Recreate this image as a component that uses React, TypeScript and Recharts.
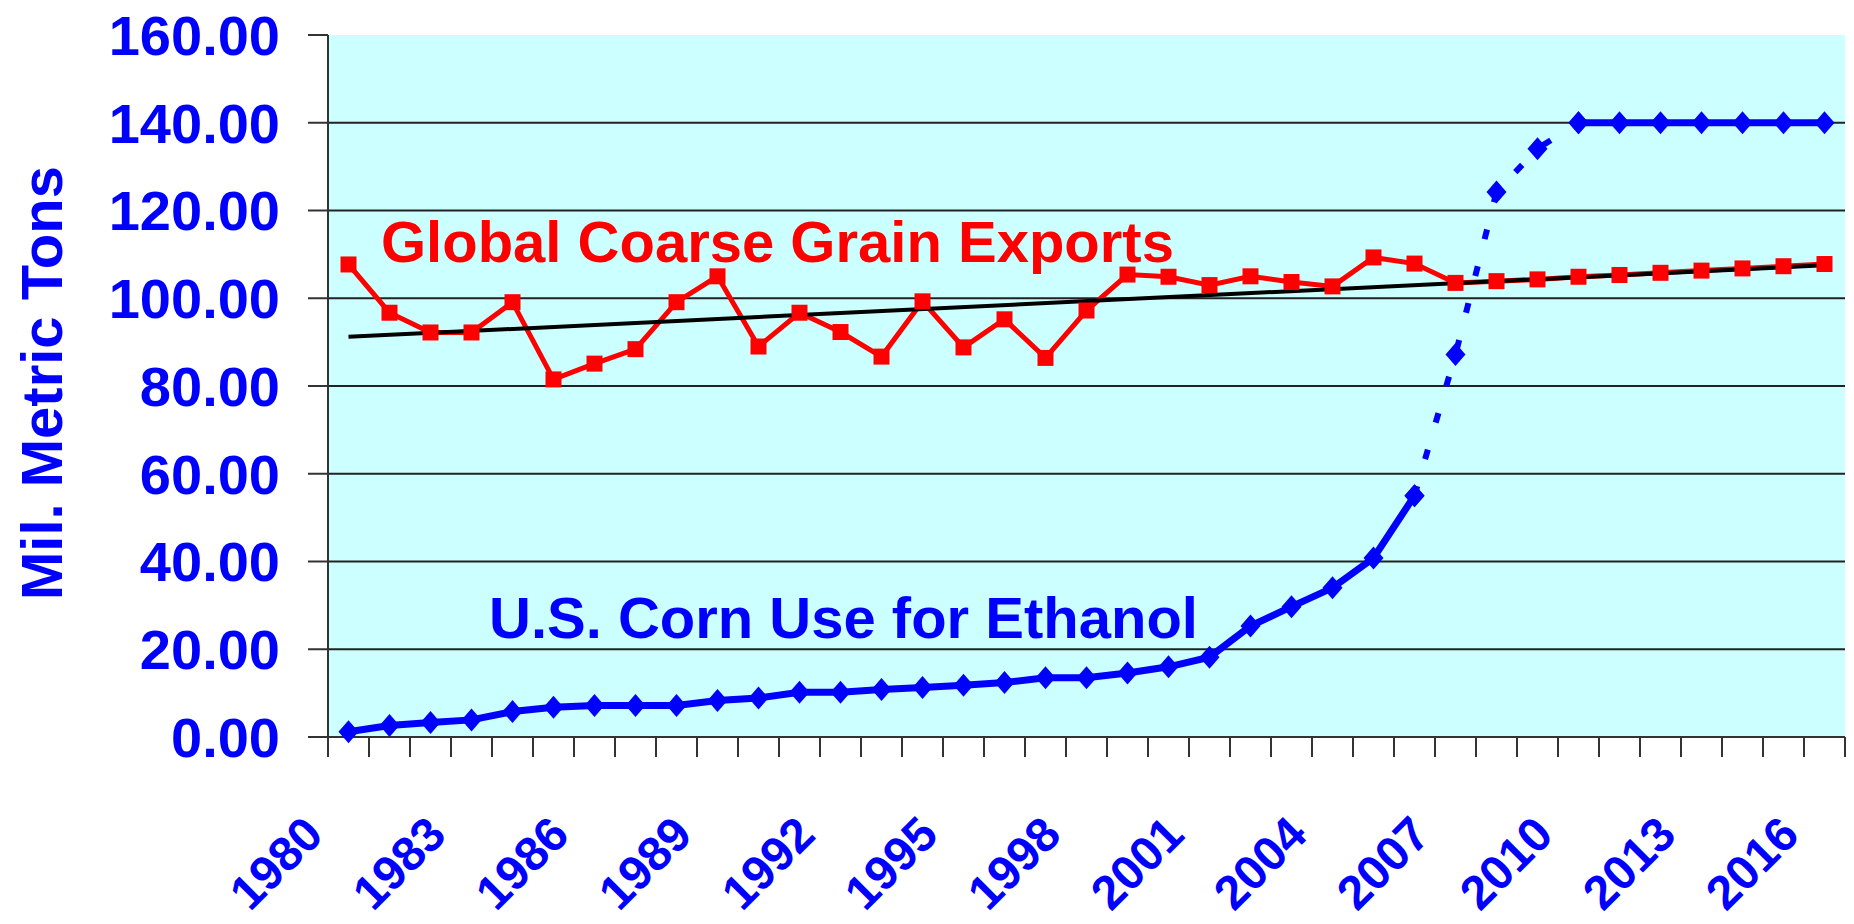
import { CartesianGrid, Line, LineChart, XAxis, YAxis } from "recharts";

const years = [
  1980, 1981, 1982, 1983, 1984, 1985, 1986, 1987, 1988, 1989, 1990, 1991, 1992,
  1993, 1994, 1995, 1996, 1997, 1998, 1999, 2000, 2001, 2002, 2003, 2004, 2005,
  2006, 2007, 2008, 2009, 2010, 2011, 2012, 2013, 2014, 2015, 2016
];

// Global coarse grain exports (red squares)
const grainExports = [
  107.7, 96.7, 92.2, 92.2, 99.1, 81.5, 85.1, 88.4, 99.1, 105.0, 89.0, 96.7, 92.3,
  86.7, 99.3, 88.8, 95.2, 86.4, 97.2, 105.4, 104.9, 103.0, 105.0, 103.7, 102.7,
  109.3, 107.9, 103.5, 103.9, 104.3, 104.9, 105.3, 105.8, 106.3, 106.8, 107.3, 107.8
];

// U.S. corn use for ethanol (blue diamonds)
const ethanolUse = [
  1.2, 2.6, 3.3, 3.9, 5.8, 6.8, 7.2, 7.2, 7.2, 8.3, 8.9, 10.2, 10.2, 10.8, 11.3,
  11.8, 12.4, 13.5, 13.5, 14.6, 16.0, 18.2, 25.3, 29.7, 34.0, 40.8, 55.0, 87.2,
  124.2, 134.1, 140, 140, 140, 140, 140, 140, 140
];

// linear trend of the exports, read at both ends
const trendEnds = [
  { year: 1980, value: 91.2 },
  { year: 2016, value: 107.5 }
];

const lastActualYear = 2006;
const plateauYear = 2010;

const yTicks = [0, 20, 40, 60, 80, 100, 120, 140, 160];
const gridValues = [20, 40, 60, 80, 100, 120, 140];
const labelYears = [1980, 1983, 1986, 1989, 1992, 1995, 1998, 2001, 2004, 2007, 2010, 2013, 2016];

// tick marks sit between the years
const tickBounds = [...years.map((y) => y - 0.5), years[years.length - 1] + 0.5];

const data = years.map((year, i) => {
  const trend = trendEnds.find((t) => t.year === year);
  return {
    year,
    grain: grainExports[i],
    trend: trend ? trend.value : null,
    ethActual: year <= lastActualYear ? ethanolUse[i] : null,
    ethProj: year >= lastActualYear && year <= plateauYear ? ethanolUse[i] : null,
    ethPlateau: year >= plateauYear ? ethanolUse[i] : null
  };
});

const FONT = '"Liberation Sans", Arial, sans-serif';
const BLUE = "#0000FF";
const RED = "#FF0000";
const AXIS = "#333333";

function SquareDot(props: any) {
  const { cx, cy, index } = props;
  if (cx == null || cy == null || props.value == null) return <g key={index} />;
  return <rect key={index} x={cx - 8} y={cy - 8} width={16} height={16} fill={RED} />;
}

function DiamondDot(props: any) {
  const { cx, cy, index } = props;
  if (cx == null || cy == null || props.value == null) return <g key={index} />;
  const pts = `${cx},${cy - 11.5} ${cx + 10},${cy} ${cx},${cy + 11.5} ${cx - 10},${cy}`;
  return <polygon key={index} points={pts} fill={BLUE} />;
}

function EmptyTick() {
  return <g />;
}

function YearTick(props: any) {
  const { x, y, payload } = props;
  return (
    <text
      x={0}
      y={0}
      transform={`translate(${x - 23},${y + 99}) rotate(-45)`}
      textAnchor="end"
      fill={BLUE}
      fontSize={48}
      fontWeight="bold"
      fontFamily={FONT}
    >
      {payload.value}
    </text>
  );
}

export default function App() {
  return (
    <div style={{ position: "fixed", left: 0, top: 0, width: 1854, height: 924, background: "#fff" }}>
      <LineChart
        width={1854}
        height={924}
        data={data}
        margin={{ top: 35, right: 9, left: 128, bottom: 185 }}
      >
        <CartesianGrid
          vertical={false}
          horizontalValues={gridValues}
          fill="#CCFFFF"
          stroke="#222222"
          strokeWidth={2}
        />
        <XAxis
          type="number"
          dataKey="year"
          domain={[1979.5, 2016.5]}
          ticks={tickBounds}
          interval={0}
          tick={<EmptyTick />}
          tickSize={20}
          height={1}
          axisLine={{ stroke: AXIS, strokeWidth: 2 }}
          tickLine={{ stroke: AXIS, strokeWidth: 2 }}
        />
        <XAxis
          xAxisId="labels"
          type="number"
          dataKey="year"
          domain={[1979.5, 2016.5]}
          ticks={labelYears}
          interval={0}
          tick={<YearTick />}
          tickSize={0}
          tickMargin={0}
          height={1}
          axisLine={false}
          tickLine={false}
        />
        <YAxis
          domain={[0, 160]}
          ticks={yTicks}
          interval={0}
          width={200}
          tickSize={20}
          tickMargin={28}
          tickFormatter={(v: number) => v.toFixed(2)}
          tick={{ fill: BLUE, fontSize: 56, fontWeight: "bold", fontFamily: FONT }}
          axisLine={{ stroke: AXIS, strokeWidth: 2 }}
          tickLine={{ stroke: AXIS, strokeWidth: 2 }}
        />
        <Line
          dataKey="grain"
          stroke={RED}
          strokeWidth={5}
          dot={SquareDot}
          isAnimationActive={false}
        />
        <Line
          dataKey="trend"
          stroke="#000000"
          strokeWidth={4}
          dot={false}
          connectNulls
          isAnimationActive={false}
        />
        <Line
          dataKey="ethActual"
          stroke={BLUE}
          strokeWidth={7}
          dot={DiamondDot}
          isAnimationActive={false}
        />
        <Line
          dataKey="ethProj"
          stroke={BLUE}
          strokeWidth={6}
          strokeDasharray="10 28"
          dot={DiamondDot}
          isAnimationActive={false}
        />
        <Line
          dataKey="ethPlateau"
          stroke={BLUE}
          strokeWidth={7}
          dot={DiamondDot}
          isAnimationActive={false}
        />
      </LineChart>
      <svg
        width={1854}
        height={924}
        style={{ position: "absolute", left: 0, top: 0, pointerEvents: "none" }}
      >
        <text
          transform="translate(62,383) rotate(-90)"
          textAnchor="middle"
          fill={BLUE}
          fontSize={58}
          fontWeight="bold"
          fontFamily={FONT}
        >
          Mil. Metric Tons
        </text>
        <text x={381} y={262} fill={RED} fontSize={58} fontWeight="bold" fontFamily={FONT}>
          Global Coarse Grain Exports
        </text>
        <text x={489} y={638} fill={BLUE} fontSize={58} fontWeight="bold" fontFamily={FONT}>
          U.S. Corn Use for Ethanol
        </text>
      </svg>
    </div>
  );
}
